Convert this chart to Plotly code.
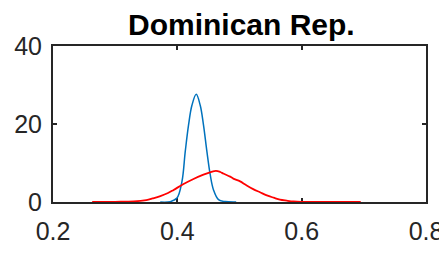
import plotly.graph_objects as go

title_text = "Dominican Rep."

blue_x = [0.3725, 0.3886, 0.3994, 0.4074, 0.4127, 0.418, 0.4235, 0.4304,
          0.4368, 0.4421, 0.4476, 0.4529, 0.4582, 0.4662, 0.477, 0.4947]
blue_y = [0.0, 0.1, 1.0, 5.2, 12.9, 19.7, 24.8, 27.6,
          24.8, 19.7, 12.9, 7.0, 3.1, 0.6, 0.1, 0.0]

red_x = [0.263, 0.30, 0.33, 0.35, 0.36, 0.3727, 0.385, 0.394, 0.41, 0.426,
         0.442, 0.456, 0.462, 0.469, 0.474, 0.485, 0.49, 0.501, 0.51, 0.522,
         0.533, 0.544, 0.555, 0.565, 0.576, 0.587, 0.60, 0.65, 0.695]
red_y = [0.0, 0.05, 0.15, 0.5, 0.9, 1.5, 2.3, 3.1, 4.6, 5.9,
         7.0, 7.8, 8.0, 7.7, 7.3, 6.5, 6.0, 5.3, 4.4, 3.3,
         2.5, 1.7, 1.1, 0.6, 0.35, 0.15, 0.05, 0.0, 0.0]

x_ticks = [0.2, 0.4, 0.6, 0.8]
y_ticks = [0, 20, 40]

fig = go.Figure()
fig.add_trace(go.Scatter(x=blue_x, y=blue_y, mode="lines", cliponaxis=False,
                         line=dict(color="#0072BD", width=1.5, shape="spline"), showlegend=False))
fig.add_trace(go.Scatter(x=red_x, y=red_y, mode="lines", cliponaxis=False,
                         line=dict(color="#FF0000", width=1.8, shape="spline"), showlegend=False))

axis_common = dict(showgrid=False, zeroline=False, showline=True, linecolor="#262626", linewidth=2,
                   mirror="allticks", ticks="inside", ticklen=4, tickwidth=1.5, tickcolor="#262626",
                   automargin=False, layer="below traces",
                   tickfont=dict(family="Liberation Sans, Arial", size=25, color="#262626"))

# page body has an 8px default margin, so the figure is sized to fit the 447x253 window
fig.update_layout(
    width=439, height=245,
    margin=dict(l=45, r=21, t=38, b=51),
    paper_bgcolor="white", plot_bgcolor="white",
    xaxis=dict(range=[0.2, 0.8], tickvals=x_ticks, ticktext=[f"{v:.1f}" for v in x_ticks],
               ticklabelstandoff=6, **axis_common),
    yaxis=dict(range=[0, 40], tickvals=y_ticks, ticktext=[str(v) for v in y_ticks],
               ticklabelstandoff=4, **axis_common),
)
fig.add_annotation(text=f"<b>{title_text}</b>", xref="paper", yref="paper", x=0.505, y=1.02,
                   xanchor="center", yanchor="bottom", showarrow=False,
                   font=dict(family="Liberation Sans, Arial", size=30, color="black"))

fig.write_html("out.html")
